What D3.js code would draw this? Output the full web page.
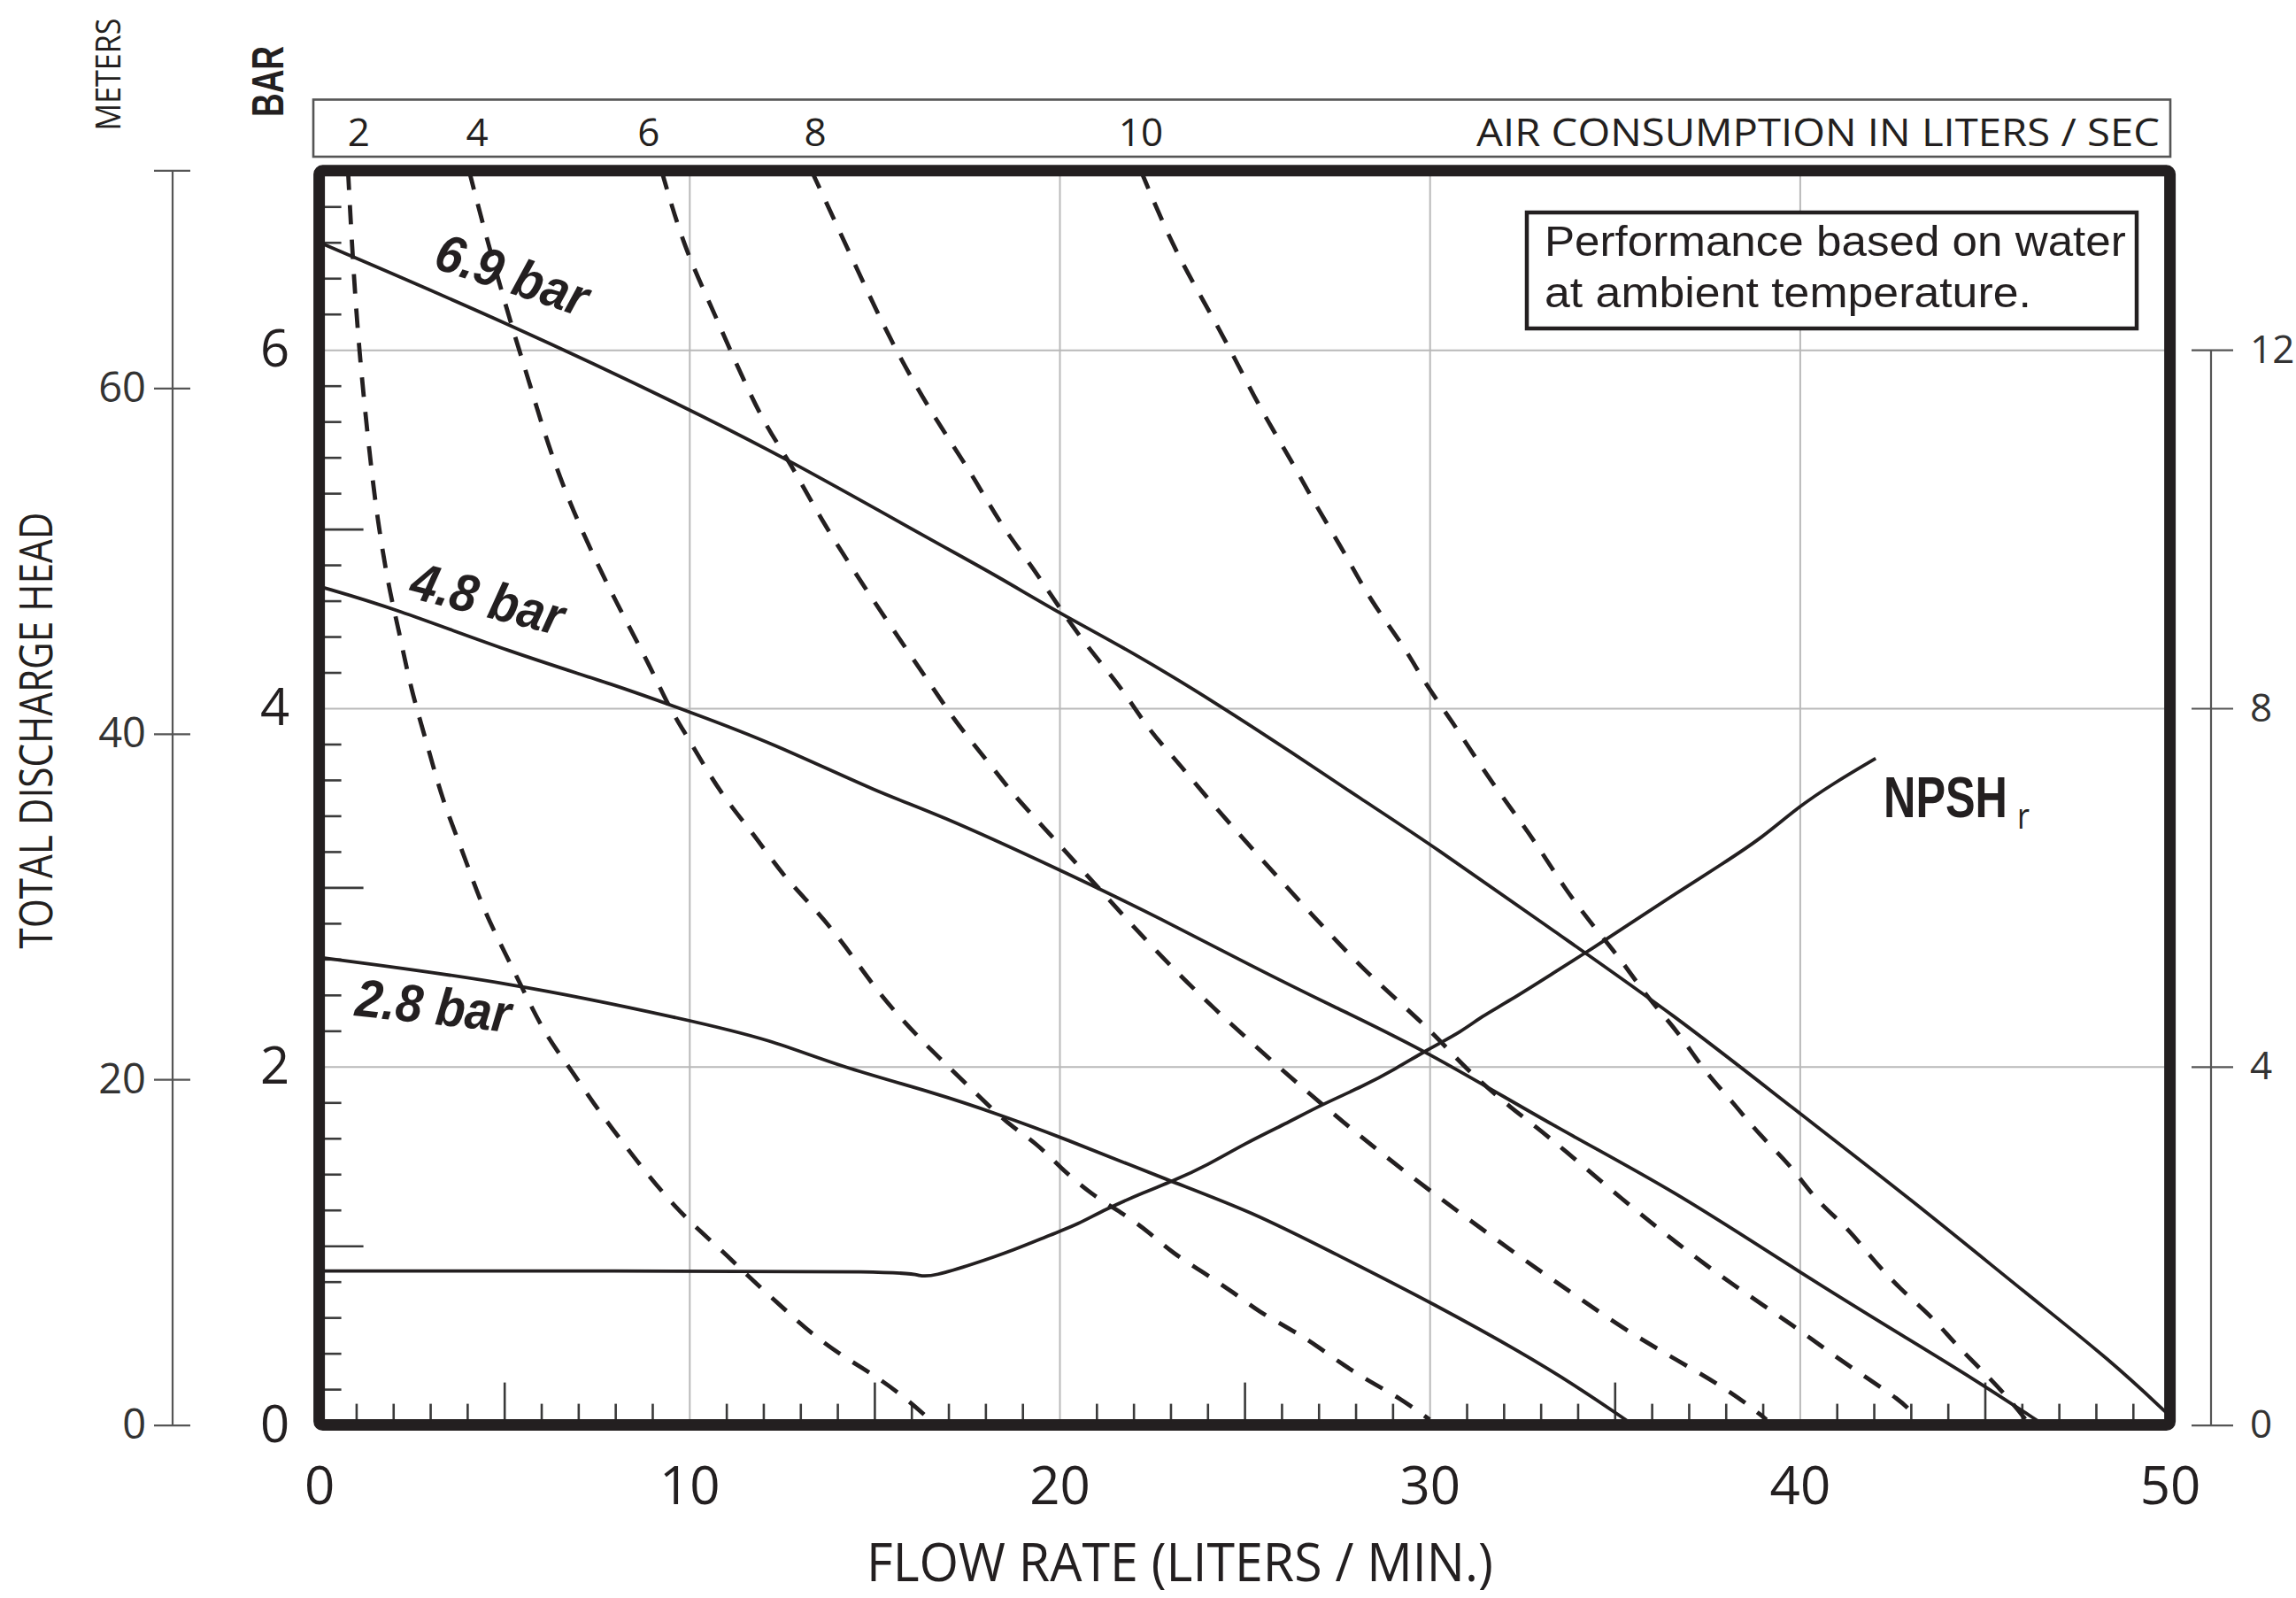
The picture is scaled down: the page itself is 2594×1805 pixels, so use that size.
<!DOCTYPE html>
<html>
<head>
<meta charset="utf-8">
<script src="https://cdn.jsdelivr.net/npm/d3@7/dist/d3.min.js"></script>
<style>
  html, body { margin: 0; padding: 0; background: #fff; }
  svg { display: block; }
</style>
</head>
<body>
<div id="chart"></div>
<script>
// ---------- data ----------
const flowTicks = [0, 10, 20, 30, 40, 50];
const barTicks = [0, 2, 4, 6];
const meterTicks = [0, 20, 40, 60];
const npshTicks = [0, 4, 8, 12];
const airLabels = ['2', '4', '6', '8', '10'];
const airLabelFlow = [1.07, 4.27, 8.9, 13.4, 22.2];
const pressureNames = ['6.9 bar', '4.8 bar', '2.8 bar'];

// head curves [flow l/min, head bar]
const head69 = [[0, 6.60], [5.2, 6.14], [10, 5.67], [12.74, 5.38], [16.7, 4.92], [18.3, 4.74], [20, 4.53],
  [22, 4.31], [24.3, 4.02], [26.3, 3.75], [28.1, 3.50], [30.04, 3.24], [33.4, 2.75], [36.6, 2.29],
  [39.8, 1.77], [43, 1.26], [46.2, 0.72], [48.4, 0.36], [50, 0.05]];
const head48 = [[0, 4.68], [2, 4.56], [5.2, 4.31], [8, 4.13], [10, 3.98], [12.2, 3.81], [15.2, 3.52],
  [16.6, 3.42], [20, 3.10], [22.8, 2.82], [25.2, 2.56], [27.35, 2.34], [29.9, 2.09], [33.4, 1.66],
  [36.6, 1.31], [40, 0.85], [43, 0.47], [44.6, 0.27], [46.6, 0]];
const head28 = [[0, 2.61], [5.2, 2.47], [10, 2.26], [12.2, 2.15], [14.06, 2.0], [16.7, 1.85], [18.4, 1.73],
  [20, 1.61], [23, 1.36], [25.2, 1.19], [27.4, 0.96], [30, 0.69], [33.4, 0.30], [35.5, 0]];

// NPSHr [flow, right axis value]
const npsh = [[0, 1.72], [8, 1.72], [15.9, 1.72], [16.2, 1.66], [16.6, 1.66], [17.7, 1.80], [18.75, 1.95],
  [19.8, 2.13], [20.5, 2.24], [21.2, 2.40], [22.3, 2.60], [23.05, 2.72], [24, 2.90], [25, 3.14],
  [26.1, 3.36], [27.1, 3.58], [28.2, 3.78], [29.1, 3.98], [29.9, 4.18], [30.9, 4.40], [31.4, 4.56],
  [32.1, 4.72], [33.4, 5.06], [34.4, 5.32], [35.5, 5.62], [36.6, 5.92], [37.9, 6.26], [39, 6.56],
  [39.9, 6.88], [40.9, 7.16], [42.05, 7.44]];

// air consumption curves [flow, head bar]
const air2 = [[0.78, 7.0], [0.91, 6.49], [1.08, 5.99], [1.34, 5.46], [1.56, 5.07], [1.88, 4.67], [2.15, 4.44],
  [2.47, 4.11], [2.96, 3.77], [3.31, 3.50], [3.84, 3.22], [4.27, 2.97], [4.6, 2.81], [5.03, 2.63],
  [5.46, 2.45], [6.1, 2.18], [6.75, 2.0], [7.39, 1.80], [8.15, 1.59], [8.9, 1.39], [9.65, 1.21],
  [10.2, 1.10], [11.05, 0.94], [11.7, 0.81], [12.55, 0.65], [13.3, 0.51], [14.17, 0.38], [14.9, 0.29],
  [15.67, 0.18], [16.5, 0.03]];
const air4 = [[4.05, 7.0], [4.46, 6.67], [5.2, 6.13], [5.65, 5.84], [6.29, 5.39], [7.15, 4.96], [8.0, 4.60],
  [8.98, 4.22], [9.41, 4.02], [9.95, 3.84], [10.85, 3.52], [11.7, 3.31], [12.55, 3.06], [13.4, 2.88],
  [14.2, 2.68], [15.1, 2.41], [16.2, 2.16], [16.9, 2.02], [17.8, 1.84], [18.6, 1.68], [19.4, 1.57],
  [20.0, 1.44], [20.9, 1.28], [21.65, 1.19], [22.4, 1.08], [23.05, 0.96], [23.9, 0.85], [24.7, 0.74],
  [25.4, 0.63], [26.2, 0.54], [26.9, 0.45], [27.7, 0.33], [28.4, 0.24], [29.2, 0.15], [30.0, 0.03]];
const air6 = [[9.25, 7.0], [9.84, 6.58], [10.6, 6.24], [11.1, 6.0], [12.0, 5.59], [12.74, 5.37], [13.5, 5.07],
  [14.9, 4.62], [16.4, 4.17], [17.2, 3.92], [18.0, 3.72], [18.75, 3.52], [19.2, 3.42], [21.0, 3.01],
  [23.05, 2.54], [25.4, 2.09], [27.7, 1.68], [29.9, 1.32], [32.9, 0.87], [33.55, 0.78], [35.2, 0.54],
  [36.7, 0.36], [38.2, 0.18], [39.1, 0.03]];
const air8 = [[13.3, 7.0], [14.4, 6.51], [15.5, 6.02], [16.6, 5.63], [17.4, 5.38], [17.9, 5.21], [18.5, 5.0],
  [19.3, 4.78], [20.0, 4.56], [20.8, 4.33], [21.7, 4.11], [22.4, 3.88], [23.2, 3.70], [23.9, 3.52],
  [25.4, 3.17], [26.9, 2.83], [28.3, 2.52], [29.9, 2.23], [30.7, 2.05], [31.4, 1.91], [32.2, 1.77],
  [32.9, 1.66], [33.55, 1.55], [35.2, 1.26], [36.7, 1.01], [38.2, 0.78], [39.8, 0.56], [41.3, 0.33],
  [42.8, 0.13], [43.1, 0.05]];
const air10 = [[22.2, 7.0], [23.05, 6.58], [23.9, 6.27], [24.7, 5.97], [25.4, 5.68], [26.3, 5.37], [26.9, 5.14],
  [27.7, 4.87], [28.4, 4.60], [29.3, 4.35], [29.9, 4.13], [30.6, 3.93], [31.5, 3.64], [32.2, 3.44],
  [32.9, 3.24], [33.66, 2.99], [34.4, 2.79], [35.2, 2.59], [35.9, 2.38], [36.7, 2.20], [37.4, 1.98],
  [38.2, 1.80], [38.9, 1.62], [39.8, 1.44], [40.4, 1.26], [41.3, 1.10], [41.9, 0.94], [42.7, 0.76],
  [43.6, 0.60], [44.2, 0.45], [45.1, 0.27], [45.8, 0.11], [46.1, 0.03]];

// ---------- layout ----------
const width = 2594;
const height = 1805;
const plotLeft = 360.6;
const plotRight = 2451.6;
const plotTop = 192.8;
const plotBottom = 1609.6;
const ink = '#231f20';
const font = "'Open Sans', sans-serif";
const armFont = "'Liberation Sans', Arial, sans-serif";
// label anchors in data units [flow, bar], angle, length
const pressureLabelPos = [[3.04, 6.46, 18.3, 178], [2.39, 4.62, 14.3, 176], [0.94, 2.285, 6.2, 176]];

const svg = d3.select('#chart').append('svg')
    .attr('width', width)
    .attr('height', height);
svg.append('rect').attr('width', width).attr('height', height).attr('fill', '#fff');

// squeeze a text horizontally to a given length (original uses a condensed face)
function fitText(sel, tx, ty, angle, target) {
    const w = sel.node().getComputedTextLength();
    const sx = target / w;
    sel.attr('transform', `translate(${tx},${ty}) rotate(${angle}) scale(${sx},1)`);
    return sel;
}

// scales
const x = d3.scaleLinear().domain([0, 50]).range([plotLeft, plotRight]);
const y = d3.scaleLinear().domain([0, 7]).range([plotBottom, plotTop]);
const yM = d3.scaleLinear().domain([0, 72.58]).range([plotBottom, plotTop]);
const yR = d3.scaleLinear().domain([0, 14]).range([plotBottom, plotTop]);

// grid
svg.append('g')
    .attr('transform', `translate(0,${plotBottom})`)
    .call(d3.axisBottom(x).tickValues([10, 20, 30, 40]).tickSize(-(plotBottom - plotTop)).tickFormat(''))
    .call(g => g.select('.domain').remove())
    .selectAll('line').attr('stroke', '#b9b9b9').attr('stroke-width', 2);
svg.append('g')
    .attr('transform', `translate(${plotLeft},0)`)
    .call(d3.axisLeft(y).tickValues([2, 4, 6]).tickSize(-(plotRight - plotLeft)).tickFormat(''))
    .call(g => g.select('.domain').remove())
    .selectAll('line').attr('stroke', '#b9b9b9').attr('stroke-width', 2);

// inner minor ticks
const barMinor = d3.range(1, 35).filter(i => i % 10 !== 0).map(i => i / 5);
const minorTick = (g) => g.call(s => s.select('.domain').remove())
    .selectAll('line').attr('stroke', '#3a3a3a').attr('stroke-width', 2.6);
svg.append('g').attr('transform', `translate(${plotLeft},0)`)
    .call(d3.axisRight(y).tickValues(barMinor.filter(v => Math.round(v * 5) % 5 !== 0)).tickSize(25).tickFormat(''))
    .call(minorTick);
svg.append('g').attr('transform', `translate(${plotLeft},0)`)
    .call(d3.axisRight(y).tickValues([1, 3, 5]).tickSize(50).tickFormat(''))
    .call(minorTick);
const flowMinor = d3.range(1, 50).filter(v => v % 10 !== 0);
svg.append('g').attr('transform', `translate(0,${plotBottom})`)
    .call(d3.axisTop(x).tickValues(flowMinor.filter(v => v % 5 !== 0)).tickSize(24).tickFormat(''))
    .call(minorTick);
svg.append('g').attr('transform', `translate(0,${plotBottom})`)
    .call(d3.axisTop(x).tickValues(flowMinor.filter(v => v % 5 === 0)).tickSize(48).tickFormat(''))
    .call(minorTick);

// clip
svg.append('clipPath').attr('id', 'plotClip')
    .append('rect').attr('x', plotLeft).attr('y', plotTop)
    .attr('width', plotRight - plotLeft).attr('height', plotBottom - plotTop);
const plot = svg.append('g').attr('clip-path', 'url(#plotClip)');

const line = d3.line().x(d => x(d[0])).y(d => y(d[1])).curve(d3.curveBasis);
const lineR = d3.line().x(d => x(d[0])).y(d => yR(d[1])).curve(d3.curveBasis);

// air curves
[air2, air4, air6, air8, air10].forEach((d) => {
    plot.append('path')
        .datum(d)
        .attr('d', line)
        .attr('fill', 'none')
        .attr('stroke', ink)
        .attr('stroke-width', 4.8)
        .attr('stroke-dasharray', '22,17');
});
// head curves
[head69, head48, head28].forEach((d) => {
    plot.append('path')
        .datum(d)
        .attr('d', line)
        .attr('fill', 'none')
        .attr('stroke', ink)
        .attr('stroke-width', 3.8);
});
plot.append('path')
    .datum(npsh)
    .attr('d', lineR)
    .attr('fill', 'none')
    .attr('stroke', ink)
    .attr('stroke-width', 3.8);

// pressure labels
pressureNames.forEach((name, i) => {
    const p = pressureLabelPos[i];
    const t = svg.append('text')
        .attr('font-family', armFont)
        .attr('font-weight', 'bold')
        .attr('font-style', 'italic')
        .attr('font-size', 60)
        .attr('fill', ink)
        .text(name);
    fitText(t, x(p[0]), y(p[1]), p[2], p[3]);
});

// NPSHr label
const npshText = svg.append('text')
    .attr('font-family', armFont).attr('font-weight', 'bold').attr('font-size', 64)
    .attr('fill', ink)
    .text('NPSH');
fitText(npshText, 2128, 923, 0, 140);
const npshSub = svg.append('text')
    .attr('font-family', font).attr('font-size', 40)
    .attr('fill', ink)
    .text('r');
fitText(npshSub, 2279, 936, 0, 14);

// info box
svg.append('rect')
    .attr('x', 1725).attr('y', 240).attr('width', 689).attr('height', 131)
    .attr('fill', '#fff').attr('stroke', ink).attr('stroke-width', 4.5);
[['Performance based on water', 289, 657], ['at ambient temperature.', 347, 550]].forEach(r => {
    const t = svg.append('text')
        .attr('font-family', armFont).attr('font-size', 49)
        .attr('fill', ink)
        .text(r[0]);
    fitText(t, 1745, r[1], 0, r[2]);
});

// frame
svg.append('rect')
    .attr('x', plotLeft).attr('y', plotTop)
    .attr('width', plotRight - plotLeft).attr('height', plotBottom - plotTop)
    .attr('rx', 4)
    .attr('fill', 'none')
    .attr('stroke', ink)
    .attr('stroke-width', 13);

// bar labels (left)
svg.append('g')
    .attr('transform', `translate(${plotLeft},0)`)
    .call(d3.axisLeft(y).tickValues(barTicks).tickSize(0).tickFormat(d3.format('d')))
    .call(g => g.select('.domain').remove())
    .call(g => g.attr('font-family', font).attr('font-size', 58))
    .selectAll('text').attr('x', -50).attr('text-anchor', 'middle').attr('fill', ink);

// flow labels (bottom)
svg.append('g')
    .attr('transform', `translate(0,${plotBottom})`)
    .call(d3.axisBottom(x).tickValues(flowTicks).tickSize(0).tickPadding(47))
    .call(g => g.select('.domain').remove())
    .call(g => g.attr('font-family', font).attr('font-size', 60))
    .selectAll('text').attr('fill', ink);

// meters axis
svg.append('line')
    .attr('x1', 195).attr('x2', 195).attr('y1', yM(0)).attr('y2', yM(72.58))
    .attr('stroke', '#555').attr('stroke-width', 2.2);
svg.append('line')
    .attr('x1', 174).attr('x2', 215).attr('y1', yM(72.58)).attr('y2', yM(72.58))
    .attr('stroke', '#555').attr('stroke-width', 2.2);
svg.append('g')
    .attr('transform', 'translate(215,0)')
    .call(d3.axisLeft(yM).tickValues(meterTicks).tickSizeInner(41).tickSizeOuter(0).tickPadding(9))
    .call(g => g.select('.domain').remove())
    .call(g => g.attr('font-family', font).attr('font-size', 47))
    .call(g => g.selectAll('line').attr('stroke', '#555').attr('stroke-width', 2.2))
    .selectAll('text').attr('fill', '#333');

// right axis
svg.append('line')
    .attr('x1', 2498).attr('x2', 2498).attr('y1', yR(0)).attr('y2', yR(12))
    .attr('stroke', '#555').attr('stroke-width', 2.2);
svg.append('g')
    .attr('transform', 'translate(2476,0)')
    .call(d3.axisRight(yR).tickValues(npshTicks).tickSizeInner(47).tickSizeOuter(0).tickPadding(19))
    .call(g => g.select('.domain').remove())
    .call(g => g.attr('font-family', font).attr('font-size', 44))
    .call(g => g.selectAll('line').attr('stroke', '#555').attr('stroke-width', 2.2))
    .selectAll('text').attr('fill', '#333');

// air consumption strip
svg.append('rect')
    .attr('x', 354).attr('y', 112.5).attr('width', 2098).attr('height', 64.5)
    .attr('fill', 'none').attr('stroke', '#555').attr('stroke-width', 2.6);
svg.append('g').selectAll('text')
    .data(airLabels)
    .enter()
    .append('text')
    .attr('x', (d, i) => x(airLabelFlow[i]))
    .attr('y', 165)
    .attr('text-anchor', 'middle')
    .attr('font-family', font).attr('font-size', 44)
    .attr('fill', ink)
    .text(d => d);
const airTitle = svg.append('text')
    .attr('text-anchor', 'end')
    .attr('font-family', font).attr('font-size', 44)
    .attr('fill', ink)
    .text('AIR CONSUMPTION IN LITERS / SEC');
fitText(airTitle, 2440, 165, 0, 772);

// axis titles
const flowTitle = svg.append('text')
    .attr('text-anchor', 'middle')
    .attr('font-family', font).attr('font-size', 60)
    .attr('fill', ink)
    .text('FLOW RATE (LITERS / MIN.)');
fitText(flowTitle, 1333, 1786, 0, 708);
const headTitle = svg.append('text')
    .attr('text-anchor', 'middle')
    .attr('font-family', font).attr('font-size', 52)
    .attr('fill', ink)
    .text('TOTAL DISCHARGE HEAD');
fitText(headTitle, 59, 825, -90, 493);
const meterTitle = svg.append('text')
    .attr('text-anchor', 'middle')
    .attr('font-family', font).attr('font-size', 38)
    .attr('fill', ink)
    .text('METERS');
fitText(meterTitle, 136, 84, -90, 127);
const barTitle = svg.append('text')
    .attr('text-anchor', 'middle')
    .attr('font-family', armFont).attr('font-weight', 'bold').attr('font-size', 50)
    .attr('fill', ink)
    .text('BAR');
fitText(barTitle, 320, 92, -90, 80);
</script>
</body>
</html>
